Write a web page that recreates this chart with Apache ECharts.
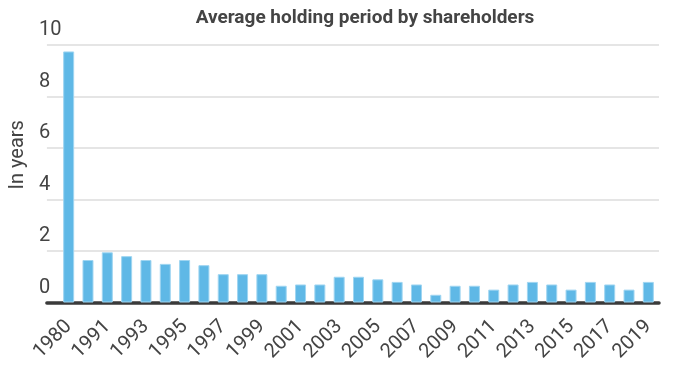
<!DOCTYPE html>
<html>
<head>
<meta charset="utf-8">
<script src="https://cdn.jsdelivr.net/npm/echarts@6/dist/echarts.min.js"></script>
<style>
html,body{margin:0;padding:0;background:#fff;}
#main{width:679px;height:372px;}
</style>
</head>
<body>
<div id="main"></div>
<script>
var categories = ['1980','1990','1991','1992','1993','1994','1995','1996','1997','1998','1999','2000','2001','2002','2003','2004','2005','2006','2007','2008','2009','2010','2011','2012','2013','2014','2015','2016','2017','2018','2019'];
var holdingYears = [9.75, 1.65, 1.95, 1.8, 1.65, 1.5, 1.65, 1.45, 1.1, 1.1, 1.1, 0.65, 0.7, 0.7, 1.0, 1.0, 0.9, 0.8, 0.7, 0.3, 0.65, 0.65, 0.5, 0.7, 0.8, 0.7, 0.5, 0.8, 0.7, 0.5, 0.8];
var yTicks = [0, 2, 4, 6, 8, 10];

var FONT = 'Roboto';
var chart = echarts.init(document.getElementById('main'), null, {renderer: 'canvas'});
chart.setOption({
  animation: false,
  backgroundColor: '#ffffff',
  title: {
    text: 'Average holding period by shareholders',
    left: 360,
    textAlign: 'center',
    top: 4,
    textStyle: {fontFamily: FONT, fontSize: 19, fontWeight: 'bold', color: '#444444'}
  },
  grid: [
    {left: 34, right: 20, top: 45, bottom: 69.5},
    {left: 59, right: 21, top: 45, bottom: 69.5}
  ],
  xAxis: [
    {
      gridIndex: 0, type: 'value', min: 0, max: 1, offset: 1.6,
      axisLine: {show: true, lineStyle: {color: '#3a3a3a', width: 3.5}},
      axisTick: {show: false}, axisLabel: {show: false}, splitLine: {show: false}
    },
    {
      gridIndex: 1, type: 'category', data: categories,
      axisLine: {show: false}, axisTick: {show: false},
      axisLabel: {
        interval: 1, rotate: 45, margin: 21,
        fontFamily: FONT, fontSize: 20, color: '#444444'
      }
    }
  ],
  yAxis: [
    {
      gridIndex: 0, type: 'value', min: yTicks[0], max: yTicks[yTicks.length - 1], interval: 2,
      name: 'In years', nameLocation: 'middle', nameGap: 14,
      nameTextStyle: {fontFamily: FONT, fontSize: 20, color: '#444444', padding: [0, 0, 0, 38]},
      axisLine: {show: false}, axisTick: {show: false},
      axisLabel: {
        inside: true, margin: -8, verticalAlign: 'bottom', padding: [0, 0, 5, 0],
        fontFamily: FONT, fontSize: 20, color: '#444444'
      },
      splitLine: {show: true, lineStyle: {color: '#dddddd', width: 1.5}}
    },
    {
      gridIndex: 1, type: 'value', min: yTicks[0], max: yTicks[yTicks.length - 1], interval: 2,
      axisLine: {show: false}, axisTick: {show: false}, axisLabel: {show: false},
      splitLine: {show: false}
    }
  ],
  series: [{
    type: 'bar',
    xAxisIndex: 1, yAxisIndex: 1,
    data: holdingYears,
    barWidth: 11,
    itemStyle: {color: '#5fb8e6', borderColor: '#9fd5f1', borderWidth: 1}
  }]
});
</script>
</body>
</html>
